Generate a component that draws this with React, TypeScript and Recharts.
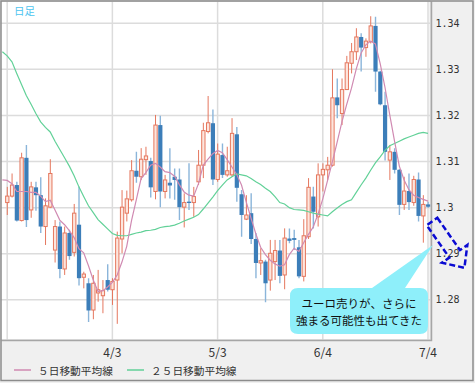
import React from 'react';
import { ComposedChart, Bar, Line, XAxis, YAxis, CartesianGrid, Legend } from 'recharts';

// ---- data ----
const opens = [
  1.3011, 1.3025, 1.3049, 1.2972, 1.3108, 1.2995, 1.3044, 1.3027, 1.2959, 1.3001,
  1.2908, 1.2959, 1.2867, 1.2945, 1.2903, 1.2963, 1.2849, 1.2836, 1.2778, 1.2815,
  1.2809, 1.2843, 1.2822, 1.2843, 1.2932, 1.2988, 1.3017, 1.3080, 1.3067, 1.3104,
  1.3101, 1.3035, 1.3179, 1.3035, 1.3054, 1.3067, 1.3061, 1.3001, 1.3013, 1.3011,
  1.3056, 1.3092, 1.3165, 1.3183, 1.3061, 1.3114, 1.3071, 1.3071, 1.3159, 1.3029,
  1.2975, 1.2988, 1.2932, 1.2880, 1.2883, 1.2843, 1.2883, 1.2907, 1.2854, 1.2933,
  1.2934, 1.2914, 1.2851, 1.2937, 1.3024, 1.2980, 1.3071, 1.3082, 1.3092, 1.3239,
  1.3204, 1.3256, 1.3313, 1.3338, 1.3370, 1.3347, 1.3360, 1.3394, 1.3295, 1.3222,
  1.3103, 1.3121, 1.3082, 1.3007, 1.3036, 1.3011, 1.3061, 1.2982, 1.3007,
];
const highs = [
  1.3045, 1.3074, 1.3056, 1.3119, 1.3136, 1.3056, 1.3056, 1.3066, 1.3020, 1.3105,
  1.2973, 1.2970, 1.2959, 1.2952, 1.3008, 1.3045, 1.2861, 1.2847, 1.2854, 1.2865,
  1.2843, 1.2877, 1.2847, 1.2948, 1.3038, 1.3037, 1.3103, 1.3121, 1.3129, 1.3132,
  1.3108, 1.3201, 1.3199, 1.3071, 1.3129, 1.3085, 1.3085, 1.3031, 1.3096, 1.3045,
  1.3125, 1.3184, 1.3242, 1.3213, 1.3139, 1.3139, 1.3132, 1.3194, 1.3175, 1.3038,
  1.3027, 1.3031, 1.2945, 1.2912, 1.2887, 1.2930, 1.2930, 1.2930, 1.2955, 1.2955,
  1.2952, 1.2930, 1.2975, 1.3064, 1.3045, 1.3096, 1.3096, 1.3110, 1.3300, 1.3280,
  1.3280, 1.3329, 1.3357, 1.3389, 1.3378, 1.3367, 1.3415, 1.3414, 1.3297, 1.3251,
  1.3136, 1.3129, 1.3084, 1.3067, 1.3074, 1.3069, 1.3076, 1.3027, 1.3013,
];
const lows = [
  1.2984, 1.3022, 1.2970, 1.2970, 1.2958, 1.2978, 1.2993, 1.2945, 1.2919, 1.2999,
  1.2881, 1.2847, 1.2854, 1.2887, 1.2894, 1.2831, 1.2825, 1.2752, 1.2758, 1.2796,
  1.2771, 1.2818, 1.2789, 1.2748, 1.2901, 1.2970, 1.3013, 1.3054, 1.3060, 1.3071,
  1.3022, 1.3018, 1.3001, 1.3020, 1.3020, 1.3017, 1.2973, 1.2957, 1.2995, 1.2980,
  1.3049, 1.3064, 1.3161, 1.3049, 1.3056, 1.3064, 1.3067, 1.3067, 1.3013, 1.2937,
  1.2973, 1.2921, 1.2847, 1.2854, 1.2795, 1.2820, 1.2843, 1.2836, 1.2823, 1.2923,
  1.2908, 1.2847, 1.2840, 1.2932, 1.2955, 1.2959, 1.3035, 1.3060, 1.3089, 1.3194,
  1.3179, 1.3255, 1.3291, 1.3320, 1.3295, 1.3327, 1.3356, 1.3251, 1.3222, 1.3102,
  1.3060, 1.3074, 1.2984, 1.2995, 1.2995, 1.3004, 1.2970, 1.2924, 1.2999,
];
const closes = [
  1.3025, 1.3049, 1.2972, 1.3108, 1.2973, 1.3045, 1.3027, 1.2959, 1.3004, 1.3074,
  1.2959, 1.2867, 1.2945, 1.2895, 1.2988, 1.2847, 1.2856, 1.2777, 1.2836, 1.2822,
  1.2820, 1.2822, 1.2840, 1.2934, 1.3001, 1.3019, 1.3080, 1.3067, 1.3105, 1.3112,
  1.3044, 1.3179, 1.3035, 1.3060, 1.3048, 1.3060, 1.3001, 1.3011, 1.3010, 1.3024,
  1.3092, 1.3167, 1.3184, 1.3061, 1.3116, 1.3071, 1.3080, 1.3161, 1.3043, 1.2984,
  1.2984, 1.2932, 1.2880, 1.2885, 1.2836, 1.2901, 1.2907, 1.2852, 1.2934, 1.2928,
  1.2930, 1.2851, 1.2939, 1.3044, 1.2991, 1.3071, 1.3083, 1.3092, 1.3238, 1.3222,
  1.3256, 1.3314, 1.3338, 1.3370, 1.3347, 1.3361, 1.3394, 1.3295, 1.3224, 1.3121,
  1.3121, 1.3082, 1.3006, 1.3036, 1.3012, 1.3061, 1.2982, 1.3007, 1.3002,
];
// moving averages: first value belongs to the (clipped) day before the first candle
const ma5 = [
  1.3060,
  1.3059, 1.3052, 1.3035, 1.3035, 1.3035, 1.3033, 1.3033, 1.3025, 1.3013, 1.3016,
  1.2995, 1.2973, 1.2963, 1.2950, 1.2935, 1.2911, 1.2902, 1.2874, 1.2843, 1.2818,
  1.2820, 1.2828, 1.2838, 1.2854, 1.2882, 1.2916, 1.2972, 1.3017, 1.3063, 1.3076,
  1.3092, 1.3096, 1.3088, 1.3078, 1.3076, 1.3068, 1.3050, 1.3034, 1.3027, 1.3025,
  1.3052, 1.3092, 1.3105, 1.3117, 1.3124, 1.3119, 1.3104, 1.3088, 1.3072, 1.3049,
  1.3012, 1.2977, 1.2943, 1.2914, 1.2898, 1.2886, 1.2878, 1.2873, 1.2876, 1.2898,
  1.2912, 1.2905, 1.2924, 1.2942, 1.2958, 1.2986, 1.3019, 1.3059, 1.3099, 1.3142,
  1.3186, 1.3224, 1.3259, 1.3301, 1.3335, 1.3353, 1.3361, 1.3355, 1.3312, 1.3261,
  1.3201, 1.3144, 1.3090, 1.3060, 1.3039, 1.3027, 1.3022, 1.3018, 1.3014,
];
const ma25 = [
  1.3338,
  1.3329, 1.3316, 1.3291, 1.3267, 1.3243, 1.3224, 1.3204, 1.3186, 1.3174, 1.3164,
  1.3144, 1.3126, 1.3108, 1.3090, 1.3069, 1.3045, 1.3024, 1.3004, 1.2989, 1.2974,
  1.2964, 1.2954, 1.2944, 1.2940, 1.2939, 1.2939, 1.2942, 1.2945, 1.2947, 1.2950,
  1.2951, 1.2953, 1.2957, 1.2959, 1.2960, 1.2962, 1.2966, 1.2971, 1.2975, 1.2979,
  1.2985, 1.2997, 1.3010, 1.3023, 1.3037, 1.3049, 1.3060, 1.3067, 1.3073, 1.3071,
  1.3069, 1.3063, 1.3056, 1.3050, 1.3042, 1.3035, 1.3024, 1.3011, 1.3008, 1.3000,
  1.2996, 1.2995, 1.2994, 1.2991, 1.2988, 1.2986, 1.2984, 1.2982, 1.2991, 1.2999,
  1.3007, 1.3013, 1.3017, 1.3033, 1.3049, 1.3064, 1.3081, 1.3097, 1.3110, 1.3124,
  1.3134, 1.3139, 1.3144, 1.3149, 1.3153, 1.3157, 1.3161, 1.3163, 1.3161,
];
const xTickIdx = [0, 22, 44, 66, 88];
const xTickLabels = ['', '4/3', '5/3', '6/4', '7/4'];
const yTicks = [1.28, 1.29, 1.3, 1.31, 1.32, 1.33, 1.34];
const seriesNames = ['５日移動平均線', '２５日移動平均線'];
const chartTitle = '日足';
const calloutLines = ['ユーロ売りが、さらに', '強まる可能性も出てきた'];

// ---- styles ----
const Y_MIN = 1.2713;
const Y_MAX = 1.3448;
const RED = '#e5775e';
const RED_FILL = '#fde6de';
const BLUE = '#3c7eb9';
const BLUE_WICK = '#8bb5da';
const PINK = '#d08ab2';
const GREEN = '#62d198';
const JP = "'Noto Sans CJK JP', 'Noto Sans', sans-serif";

const data = ma5.map((m5, k) => {
  const i = k - 1;
  const has = i >= 0;
  return {
    n: i,
    o: has ? opens[i] : null,
    h: has ? highs[i] : null,
    l: has ? lows[i] : null,
    c: has ? closes[i] : null,
    range: has ? [lows[i], highs[i]] : null,
    ma5: m5,
    ma25: ma25[k],
  };
});

const Candle = (props: any) => {
  const { x, y, width, height, payload } = props;
  if (!payload || payload.o == null || x == null || y == null) return null;
  const { o, c, h, l } = payload;
  const top = Math.min(y, y + height);
  const hh = Math.abs(height);
  const span = h - l;
  const py = (v: number) => (span > 0 ? top + ((h - v) / span) * hh : top);
  const cx = x + width / 2;
  const bull = c >= o;
  const bTop = py(Math.max(o, c));
  const bBot = py(Math.min(o, c));
  const bh = Math.max(bBot - bTop, 1);
  if (bull) {
    const bw = width * 0.66;
    return (
      <g>
        <line x1={cx} x2={cx} y1={top} y2={top + hh} stroke={RED} strokeWidth={1} />
        <rect x={cx - bw / 2} y={bTop} width={bw} height={bh} fill={RED_FILL} stroke={RED} strokeWidth={1} />
      </g>
    );
  }
  const bw = width * 0.84;
  return (
    <g>
      <line x1={cx} x2={cx} y1={top} y2={top + hh} stroke={BLUE_WICK} strokeWidth={1.4} />
      <rect x={cx - bw / 2} y={bTop} width={bw} height={bh} fill={BLUE} />
    </g>
  );
};

const fmtX = (v: any) => {
  const k = xTickIdx.indexOf(Number(v));
  return k >= 0 ? xTickLabels[k] : '';
};
const fmtY = (v: number) => String(Number(v.toFixed(2)));

const renderLegend = () => (
  <svg width={475} height={20} style={{ display: 'block' }}>
    <line x1={14} x2={31} y1={7} y2={7} stroke={PINK} strokeWidth={1.5} />
    <text x={38} y={7} dominantBaseline="central" fontSize={10.7} fill="#333" fontFamily={JP}>
      {seriesNames[0]}
    </text>
    <line x1={127} x2={144} y1={7} y2={7} stroke={GREEN} strokeWidth={1.5} />
    <text x={151} y={7} dominantBaseline="central" fontSize={10.7} fill="#333" fontFamily={JP}>
      {seriesNames[1]}
    </text>
  </svg>
);

export default function App() {
  return (
    <div style={{ position: 'relative', width: 475, height: 383, background: '#f0f0f0', overflow: 'hidden' }}>
      <style>{'body{margin:0}'}</style>
      <ComposedChart
        width={475}
        height={383}
        data={data}
        margin={{ top: 1, right: 0, bottom: 0, left: 0 }}
        barCategoryGap={0}
        barGap={0}
      >
        <CartesianGrid fill="#ffffff" stroke="#dcdcdc" strokeWidth={1.5} />
        <XAxis
          dataKey="n"
          type="category"
          ticks={xTickIdx}
          interval={0}
          tickFormatter={fmtX}
          axisLine={false}
          tickLine={false}
          height={23}
          tick={{ fontSize: 12, fill: '#333', fontFamily: JP }}
        />
        <YAxis
          orientation="right"
          type="number"
          domain={[Y_MIN, Y_MAX]}
          ticks={yTicks}
          allowDataOverflow
          width={44.6}
          axisLine={false}
          tickLine={false}
          tickSize={0}
          tickMargin={5}
          tickFormatter={fmtY}
          tick={{ fontSize: 10, fill: '#333', fontFamily: "'DejaVu Sans Mono', monospace" }}
        />
        <Bar dataKey="range" shape={(p: any) => <Candle {...p} />} isAnimationActive={false} legendType="none" />
        <Line dataKey="ma25" type="linear" stroke={GREEN} strokeWidth={1.2} dot={false} isAnimationActive={false} />
        <Line dataKey="ma5" type="linear" stroke={PINK} strokeWidth={1.2} dot={false} isAnimationActive={false} />
        <Legend
          content={renderLegend}
          verticalAlign="bottom"
          wrapperStyle={{ left: 0, bottom: 0, width: 475, height: 20 }}
        />
      </ComposedChart>
      <svg
        width={475}
        height={383}
        style={{ position: 'absolute', left: 0, top: 0, pointerEvents: 'none' }}
      >
        <polyline points="1.5,340.5 431.5,340.5 431.5,1.5" fill="none" stroke="#a6a6a6" strokeWidth={1.5} />
        <rect x={1} y={1} width={472} height={379.5} fill="none" stroke="#8c8c8c" strokeWidth={1.5} />
        <text x={14} y={10} dominantBaseline="central" fontSize={10.5} fill="#4cc4ef" fontFamily={JP}>
          {chartTitle}
        </text>
        <path
          d="M 298 288 L 372 288 L 433 245 L 405 288 L 420 288 Q 428 288 428 296 L 428 326 Q 428 334 420 334 L 298 334 Q 290 334 290 326 L 290 296 Q 290 288 298 288 Z"
          fill="#8eeffa"
        />
        <text x={359} y={303} textAnchor="middle" dominantBaseline="central" fontSize={11.5} fill="#111" fontFamily={JP}>
          {calloutLines[0]}
        </text>
        <text x={359} y={320} textAnchor="middle" dominantBaseline="central" fontSize={11.5} fill="#111" fontFamily={JP}>
          {calloutLines[1]}
        </text>
        <g transform="translate(432 221.5) rotate(55)">
          <polygon
            points="0,-6.5 39.5,-6.5 39.5,-15.5 56.5,0 39.5,15.5 39.5,6.5 0,6.5"
            fill="none"
            stroke="#0a0ad2"
            strokeWidth={2.5}
            strokeDasharray="6 3"
            strokeLinejoin="miter"
          />
        </g>
      </svg>
    </div>
  );
}
